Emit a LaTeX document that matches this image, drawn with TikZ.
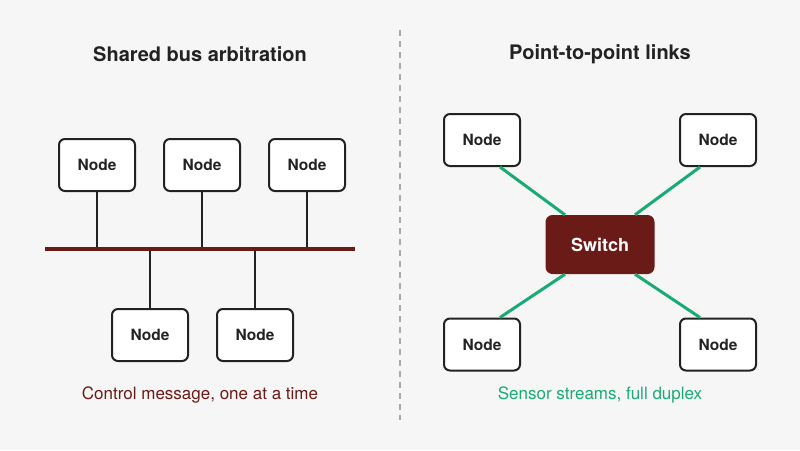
\documentclass[tikz,border=0pt]{standalone}
\usepackage{fontspec}
\setmainfont{TeX Gyre Heros}
\usetikzlibrary{calc}
\definecolor{bg}{HTML}{F6F6F6}
\definecolor{maroon}{HTML}{6A1A17}
\definecolor{linkgreen}{HTML}{1AAA74}
\definecolor{ink}{HTML}{222222}
\definecolor{divgray}{HTML}{AAAAAA}
\begin{document}
\begin{tikzpicture}[x=1pt,y=-1pt,
  nodebox/.style={draw=ink,line width=2pt,fill=white,rounded corners=6pt,
    minimum width=76pt,minimum height=52pt,inner sep=0pt,
    font=\fontsize{15.5}{18}\selectfont\bfseries,text=ink},
  switchbox/.style={fill=maroon,rounded corners=7pt,
    minimum width=109pt,minimum height=59pt,inner sep=0pt,
    font=\fontsize{18}{21}\selectfont\bfseries,text=white},
  title/.style={font=\fontsize{20}{24}\selectfont\bfseries,text=ink},
  caption/.style={font=\fontsize{17}{20}\selectfont},
  stub/.style={draw=ink,line width=2pt},
  bus/.style={draw=maroon,line width=3.5pt},
  link/.style={draw=linkgreen,line width=3pt},
  divider/.style={draw=divgray,line width=2pt,dash pattern=on 6pt off 5pt}]
\fill[bg] (0,0) rectangle (800,450);
\useasboundingbox (0,0) rectangle (800,450);
% divider
\coordinate (dtop) at (400,30);
\coordinate (dbot) at (400,420);
\draw[divider] (dtop) -- (dbot);
% titles
\node[title] (tl) at (200,54) {Shared bus arbitration};
\node[title] (tr) at (600,54) {Point-to-point links};
% left: bus
\coordinate (busL) at (45,249);
\coordinate (busR) at (355,249);
\node[nodebox] (a1) at (97,165) {Node};
\node[nodebox] (a2) at (202,165) {Node};
\node[nodebox] (a3) at (307,165) {Node};
\node[nodebox] (b1) at (150,335) {Node};
\node[nodebox] (b2) at (255,335) {Node};
\draw[stub] (a1.south) -- (a1.south |- busL);
\draw[stub] (a2.south) -- (a2.south |- busL);
\draw[stub] (a3.south) -- (a3.south |- busL);
\draw[stub] (b1.north) -- (b1.north |- busL);
\draw[stub] (b2.north) -- (b2.north |- busL);
\draw[bus] (busL) -- (busR);
\node[caption,text=maroon] (cl) at (200,395) {Control message, one at a time};
% right: switch
\node[switchbox] (sw) at (600,244.5) {Switch};
\node[nodebox] (p1) at (482,140) {Node};
\node[nodebox] (p2) at (718,140) {Node};
\node[nodebox] (p3) at (482,344.5) {Node};
\node[nodebox] (p4) at (718,344.5) {Node};
\draw[link] ($(p1.south)+(18,0)$) -- ($(sw.north)+(-35,0)$);
\draw[link] ($(p2.south)+(-18,0)$) -- ($(sw.north)+(35,0)$);
\draw[link] ($(p3.north)+(18,0)$) -- ($(sw.south)+(-35,0)$);
\draw[link] ($(p4.north)+(-18,0)$) -- ($(sw.south)+(35,0)$);
\node[caption,text=linkgreen] (cr) at (600,395) {Sensor streams, full duplex};
\end{tikzpicture}
\end{document}
